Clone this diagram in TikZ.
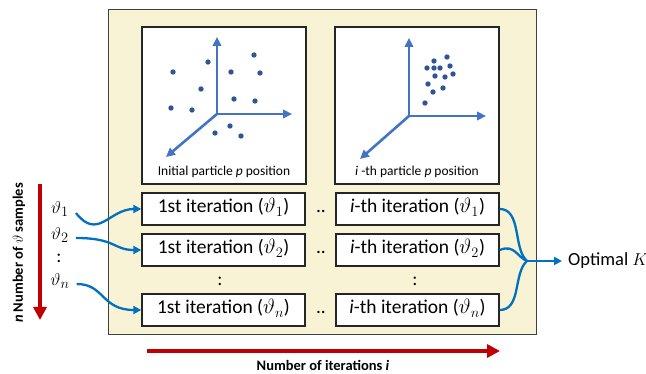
\documentclass[tikz,border=0pt]{standalone}
\usepackage{amsmath,amssymb}
\usepackage{fontspec}
\setmainfont{Carlito}
\usetikzlibrary{arrows.meta,positioning,calc}
\definecolor{panelfill}{RGB}{248,243,213}
\definecolor{darkred}{RGB}{192,0,0}
\definecolor{linkblue}{RGB}{0,112,192}
\definecolor{axisblue}{RGB}{68,114,196}
\definecolor{dotblue}{RGB}{47,85,151}

\begin{document}
\begin{tikzpicture}[x=1pt,y=-1pt,
  iterbox/.style={draw=black!85,line width=1.4pt,fill=white,minimum width=163pt,
    minimum height=32pt,inner sep=0pt,text height=13pt,text depth=5pt,
    font=\fontsize{19.5}{22}\selectfont},
  plotbox/.style={draw=black!85,line width=1.6pt,fill=white,minimum width=164pt,
    minimum height=157pt,inner sep=0pt},
  axis/.style={axisblue,line width=2.6pt,-{Triangle[length=9pt,width=8.5pt]}},
  link/.style={linkblue,line width=2.3pt},
  linktip/.style={link,-{Triangle[length=8pt,width=8pt]}},
  bigarrow/.style={darkred,line width=4.5pt,-{Triangle[length=13pt,width=13pt]}},
  small/.style={font=\fontsize{13.5}{15}\selectfont},
  label/.style={inner sep=1pt,font=\bfseries\fontsize{14.5}{16}\selectfont},
  sep/.style={inner sep=0pt,text height=13pt,text depth=5pt,font=\fontsize{19.5}{22}\selectfont},
  theta/.style={inner ysep=1pt,inner xsep=7pt,font=\fontsize{19}{22}\selectfont}]
  \useasboundingbox (0,0) rectangle (646,374);
  % yellow panel
  \draw[black!75,fill=panelfill,line width=0.8pt] (108,9) rectangle (536,334);
  % particle plots
  \node[plotbox] (initbox) at (224,105.5) {};
  \node[plotbox] (ithbox) at (417,105.5) {};
  \node[small] (initlbl) at (224,172) {Initial particle \textit{p} position};
  \node[small] (ithlbl) at (417,172) {\textit{i} -th particle \textit{p} position};
  \draw[axis] (217,114) -- (217,37);
  \draw[axis] (217,114) -- (292,114);
  \draw[axis] (217,114) -- (166,157);
  \foreach \px/\py in {173/72,208/62,254/55,231/72,260/73,201/89,234/99,255/101,
    171/108,192/110,230/126,215/133,241/136}
    \fill[dotblue] (\px,\py) circle (2.7pt);
  \draw[axis] (409,116) -- (409,38);
  \draw[axis] (409,116) -- (486,116);
  \draw[axis] (409,116) -- (360,159);
  \foreach \px/\py in {447/57,434/61,427/68,434/68,440/68,450/66,453/74,445/77,
    435/76,428/84,443/88,433/92,425/103}
    \fill[dotblue] (\px,\py) circle (2.7pt);
  % iteration boxes
  \node[iterbox] (first1) at (223.5,209) {1st iteration ($\vartheta_1$)};
  \node[iterbox] (first2) at (223.5,250) {1st iteration ($\vartheta_2$)};
  \node[iterbox] (firstn) at (223.5,310) {1st iteration ($\vartheta_n$)};
  \node[iterbox] (ith1) at (417.5,209) {\textit{i}-th iteration ($\vartheta_1$)};
  \node[iterbox] (ith2) at (417.5,250) {\textit{i}-th iteration ($\vartheta_2$)};
  \node[iterbox] (ithn) at (417.5,310) {\textit{i}-th iteration ($\vartheta_n$)};
  \node[sep] (gap1) at (321,209) {..};
  \node[sep] (gap2) at (321,250) {..};
  \node[sep] (gapn) at (321,310) {..};
  \node[font=\fontsize{19}{22}\selectfont] (vdotsa) at (220,281) {:};
  \node[font=\fontsize{19}{22}\selectfont] (vdotsb) at (415,281) {:};
  % samples
  \node[theta] (th1) at (60,209) {$\vartheta_1$};
  \node[theta] (th2) at (60,235) {$\vartheta_2$};
  \node[font=\fontsize{19}{22}\selectfont] (thdots) at (59,258) {:};
  \node[theta] (thn) at (60,281) {$\vartheta_n$};
  \draw[linktip] ([yshift=-4pt]th1.east) .. controls +(22,28) and +(-32,0) .. (first1.west);
  \draw[linktip] ([yshift=-3pt]th2.east) .. controls +(40,0) and +(-28,0) .. (first2.west);
  \draw[linktip] ([yshift=-3pt]thn.east) .. controls +(28,0) and +(-40,0) .. (firstn.west);
  % merging into the result
  \coordinate (merge) at (527,261);
  \node[anchor=west,inner sep=1pt,font=\fontsize{18.5}{21}\selectfont] (optk) at (567,261) {Optimal $K$};
  \draw[link] (ith1.east) .. controls +(22,0) and +(-14,-12) .. (merge);
  \draw[link] (ith2.east) .. controls +(15,-6) and +(-10,-4) .. (merge);
  \draw[link] (ithn.east) .. controls +(22,0) and +(-14,12) .. (merge);
  \draw[linktip,shorten >=5pt] (merge) -- (optk.west);
  % axes of the experiment
  \coordinate (vtop) at (40,184);
  \coordinate (vbot) at (40,320);
  \draw[bigarrow] (vtop) -- (vbot);
  \node[label,rotate=90] (vlbl) at (19,253) {\textit{n} Number of $\vartheta$ samples};
  \coordinate (hleft) at (147,351);
  \coordinate (hright) at (500,351);
  \draw[bigarrow] (hleft) -- (hright);
  \node[label] (hlbl) at (323,365) {Number of iterations \textit{i}};
\end{tikzpicture}
\end{document}
